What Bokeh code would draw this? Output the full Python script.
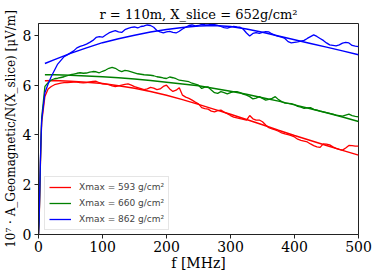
from bokeh.plotting import figure
from bokeh.models import Range1d, FixedTicker
from bokeh.embed import file_html
from bokeh.resources import INLINE

# ---------------- data ----------------
X_TICKS = [0, 100, 200, 300, 400, 500]
Y_TICKS = [0, 2, 4, 6, 8]

title_text = "r = 110m, X_slice = 652g/cm²"
x_label = "f [MHz]"
y_label = "10⁷ · A_Geomagnetic/N(X_slice) [μV/m]"

legend_labels = ["Xmax = 593 g/cm²", "Xmax = 660 g/cm²", "Xmax = 862 g/cm²"]
colors = ["#ff0000", "#008000", "#0000ff"]

freq_noisy = [0, 1, 2, 3, 4] + list(range(5, 505, 5))

red_noisy = [0.0, 0.5, 1.6, 2.8, 3.8,
    4.5, 5.55, 5.85, 5.95, 6.02, 6.05, 6.08, 6.1, 6.1, 6.11,
    6.12, 6.12, 6.1, 6.09, 6.1, 6.13, 6.15, 6.16, 6.1, 6.05,
    6.04, 6.02, 5.97, 5.94, 5.97, 6.0, 6.03, 6.05, 6.0, 5.94,
    5.9, 5.86, 5.82, 5.85, 5.91, 5.88, 5.82, 5.85, 5.95, 6.0,
    5.85, 5.75, 5.8, 5.9, 5.6, 5.52, 5.47, 5.4, 5.32, 5.25,
    5.1, 5.06, 5.04, 4.96, 4.93, 4.98, 5.0, 4.92, 4.86, 4.78,
    4.72, 4.69, 4.66, 4.63, 4.6, 4.78, 4.65, 4.6, 4.6, 4.53,
    4.4, 4.29, 4.24, 4.2, 4.15, 4.08, 4.04, 4.01, 3.97, 3.92,
    3.83, 3.78, 3.75, 3.72, 3.64, 3.57, 3.52, 3.5, 3.64, 3.63,
    3.6, 3.52, 3.46, 3.42, 3.39, 3.48, 3.58, 3.57, 3.55, 3.55]

green_noisy = [0.0, 0.6, 1.7, 2.9, 3.9,
    4.7, 5.95, 6.1, 6.21, 6.26, 6.28, 6.31, 6.34, 6.38, 6.42,
    6.45, 6.48, 6.5, 6.48, 6.49, 6.53, 6.55, 6.54, 6.5, 6.56,
    6.61, 6.68, 6.72, 6.68, 6.6, 6.55, 6.6, 6.58, 6.54, 6.5,
    6.46, 6.44, 6.42, 6.41, 6.4, 6.38, 6.34, 6.32, 6.29, 6.27,
    6.33, 6.3, 6.26, 6.2, 6.18, 6.16, 6.14, 6.08, 6.04, 6.0,
    5.87, 5.92, 5.93, 5.81, 5.7, 5.67, 5.74, 5.7, 5.65, 5.7,
    5.74, 5.74, 5.7, 5.64, 5.6, 5.54, 5.45, 5.48, 5.54, 5.47,
    5.4, 5.43, 5.47, 5.54, 5.42, 5.34, 5.28, 5.27, 5.26, 5.22,
    5.15, 5.12, 5.07, 5.09, 5.1, 5.03, 5.0, 4.96, 4.93, 4.9,
    4.87, 4.84, 4.8, 4.78, 4.76, 4.8, 4.84, 4.78, 4.75, 4.73]

blue_noisy = [0.0, 0.6, 1.8, 3.0, 3.9,
    4.6, 5.7, 6.05, 6.35, 6.6, 6.85, 7.0, 7.15, 7.22, 7.3,
    7.38, 7.5, 7.56, 7.6, 7.65, 7.72, 7.8, 7.92, 7.95, 7.93,
    8.02, 8.1, 8.15, 8.19, 8.14, 8.12, 8.23, 8.28, 8.32, 8.34,
    8.3, 8.36, 8.38, 8.42, 8.4, 8.33, 8.2, 8.14, 8.1, 8.14,
    8.16, 8.12, 8.1, 8.17, 8.26, 8.33, 8.4, 8.42, 8.38, 8.4,
    8.45, 8.43, 8.42, 8.44, 8.43, 8.4, 8.36, 8.31, 8.29, 8.33,
    8.36, 8.34, 8.33, 8.25, 8.1, 7.98, 8.08, 8.11, 8.08, 8.12,
    8.15, 8.14, 8.06, 8.0, 7.96, 7.93, 7.88, 7.75, 7.7, 7.72,
    7.74, 7.77, 7.8, 7.88, 7.95, 8.02, 7.96, 7.88, 7.8, 7.7,
    7.62, 7.6, 7.58, 7.62, 7.69, 7.72, 7.7, 7.6, 7.57, 7.55]

freq_fit = [10] + list(range(25, 525, 25))
red_fit = [6.18, 6.19, 6.16, 6.12, 6.07, 5.98, 5.88, 5.75, 5.60, 5.42, 5.23,
           5.03, 4.83, 4.62, 4.41, 4.19, 3.98, 3.78, 3.58, 3.38, 3.19]
green_fit = [6.42, 6.42, 6.40, 6.37, 6.34, 6.30, 6.25, 6.19, 6.12, 6.05, 5.98,
             5.87, 5.76, 5.64, 5.50, 5.36, 5.21, 5.05, 4.89, 4.72, 4.54]
blue_fit = [6.87, 7.03, 7.28, 7.50, 7.71, 7.87, 8.01, 8.14, 8.24, 8.32, 8.38,
            8.40, 8.36, 8.26, 8.13, 7.98, 7.83, 7.68, 7.53, 7.38, 7.22]

X_MAX = 500
Y_MAX = 8.48

# ---------------- figure ----------------
p = figure(width=374, height=275, x_range=Range1d(0, X_MAX), y_range=Range1d(0, Y_MAX),
           output_backend="svg", toolbar_location=None,
           min_border_left=37, min_border_right=16, min_border_top=23, min_border_bottom=41)
p.background_fill_color = "white"
p.border_fill_color = "white"
p.outline_line_color = "#222222"
p.outline_line_width = 1
p.grid.visible = False

p.title.text = title_text
p.title.align = "center"
p.title.text_font = "DejaVu Serif"
p.title.text_font_size = "13px"
p.title.text_font_style = "normal"
p.title.text_color = "black"
p.title.standoff = 3
p.title.offset = 0

for ax, ticks in ((p.xaxis, X_TICKS), (p.yaxis, Y_TICKS)):
    ax.ticker = FixedTicker(ticks=ticks)
    ax.minor_tick_line_color = None
    ax.major_tick_out = 4
    ax.major_tick_in = 0
    ax.axis_line_color = "#222222"
    ax.major_tick_line_color = "#222222"
    ax.major_label_text_font = "DejaVu Serif"
    ax.major_label_text_font_size = "14px"
    ax.major_label_text_color = "black"
    ax.axis_label_text_font = "DejaVu Serif"
    ax.axis_label_text_font_style = "normal"
    ax.axis_label_text_color = "black"

p.xaxis.axis_label = x_label
p.xaxis.axis_label_text_font_size = "14px"
p.xaxis.major_label_standoff = 2
p.xaxis.axis_label_standoff = 0
p.yaxis.axis_label = y_label
p.yaxis.axis_label_text_font_size = "12px"
p.yaxis.major_label_standoff = 3
p.yaxis.axis_label_standoff = 2

series = [(red_noisy, red_fit), (green_noisy, green_fit), (blue_noisy, blue_fit)]
for (noisy, fit), col, lab in zip(series, colors, legend_labels):
    p.line(freq_noisy, noisy, line_color=col, line_width=1.3, legend_label=lab)
    p.line(freq_fit, fit, line_color=col, line_width=1.5)

lg = p.legend[0]
lg.location = (6, 4)
lg.label_text_font = "DejaVu Sans"
lg.label_text_font_size = "9px"
lg.glyph_width = 22
lg.glyph_height = 12
lg.label_height = 12
lg.spacing = 4
lg.padding = 4
lg.margin = 0
lg.label_standoff = 8
lg.border_line_color = "#cccccc"
lg.border_line_width = 1
lg.background_fill_color = "white"
lg.background_fill_alpha = 0.85

open("out.html", "w").write(file_html(p, INLINE))
